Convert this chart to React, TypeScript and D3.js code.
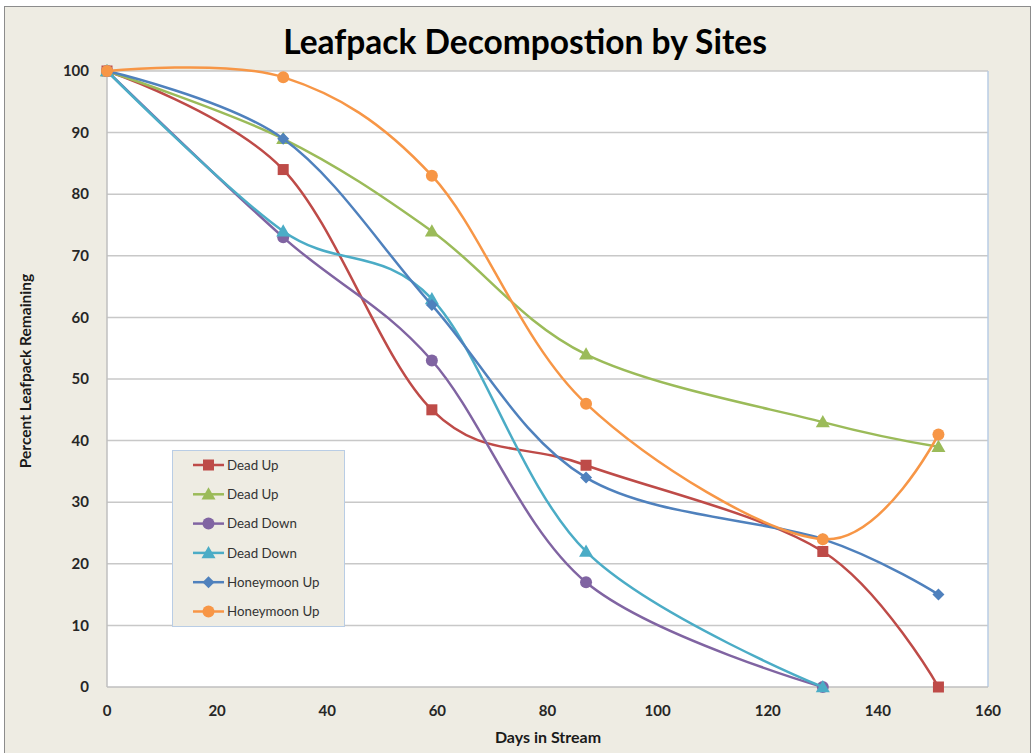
import React from "react";
import * as d3 from "d3";

const days = [0, 32, 59, 87, 130, 151];
const seriesNames = ["Dead Up", "Dead Up", "Dead Down", "Dead Down", "Honeymoon Up", "Honeymoon Up"];
const deadUpRed = [100, 84, 45, 36, 22, 0];
const deadUpGreen = [100, 89, 74, 54, 43, 39];
const deadDownPurple = [100, 73, 53, 17, 0];
const deadDownTeal = [100, 74, 63, 22, 0];
const honeymoonBlue = [100, 89, 62, 34, 24, 15];
const honeymoonOrange = [100, 99, 83, 46, 24, 41];
const xTicks = [0, 20, 40, 60, 80, 100, 120, 140, 160];
const yTicks = [0, 10, 20, 30, 40, 50, 60, 70, 80, 90, 100];

const seriesValues = [deadUpRed, deadUpGreen, deadDownPurple, deadDownTeal, honeymoonBlue, honeymoonOrange];
const colors = ["#BE4B48", "#9BBB59", "#8064A2", "#4BACC6", "#4F81BD", "#F79646"];
const markers = ["square", "triangle", "circle", "triangle", "diamond", "circle"];

const FONT = "Lato, 'Open Sans', sans-serif";

function Marker({ type, x, y, color }: { type: string; x: number; y: number; color: string }) {
  if (type === "square") return <rect x={x - 5.5} y={y - 5.5} width={11} height={11} fill={color} />;
  if (type === "circle") return <circle cx={x} cy={y} r={6} fill={color} />;
  if (type === "triangle") {
    const s = 7;
    return <path d={`M${x},${y - s}L${x + s},${y + s * 0.75}L${x - s},${y + s * 0.75}Z`} fill={color} />;
  }
  const s = 6;
  return <path d={`M${x},${y - s}L${x + s},${y}L${x},${y + s}L${x - s},${y}Z`} fill={color} />;
}

export default function App() {
  const W = 1032, H = 753;
  const x = d3.scaleLinear().domain([0, 160]).range([107, 988]);
  const y = d3.scaleLinear().domain([0, 100]).range([687, 71]);
  const line = d3
    .line<[number, number]>()
    .x((d) => x(d[0]))
    .y((d) => y(d[1]))
    .curve(d3.curveCatmullRom.alpha(0));

  const legendX = 172, legendY = 450;
  return (
    <svg width={W} height={H} style={{ position: "absolute", left: 0, top: 0 }} fontFamily={FONT}>
      <rect x={0} y={0} width={W} height={H} fill="#ffffff" />
      <rect x={4.5} y={6.5} width={1026} height={750} fill="#EEECE3" stroke="#8C8C8C" strokeWidth={1} />
      <rect x={x(0)} y={y(100)} width={x(160) - x(0)} height={y(0) - y(100)} fill="#ffffff" />
      {yTicks.filter((t) => t > 0).map((t) => (
        <line key={t} x1={x(0)} x2={x(160)} y1={y(t)} y2={y(t)} stroke="#C8C8C8" strokeWidth={1.5} />
      ))}
      <line x1={x(160)} x2={x(160)} y1={y(100)} y2={y(0)} stroke="#B9CDE5" strokeWidth={1.5} />
      <line x1={x(0)} x2={x(160)} y1={y(0)} y2={y(0)} stroke="#BFBFBF" strokeWidth={1.5} />
      <line x1={x(0)} x2={x(0)} y1={y(100)} y2={y(0)} stroke="#BFBFBF" strokeWidth={1.5} />
      {yTicks.map((t) => (
        <text key={t} x={89} y={y(t)} dy="0.35em" textAnchor="end" fontSize={15} fontWeight="bold" fill="#262626">
          {t}
        </text>
      ))}
      {xTicks.map((t) => (
        <text key={t} x={x(t)} y={716} textAnchor="middle" fontSize={15} fontWeight="bold" fill="#262626">
          {t}
        </text>
      ))}
      <text x={548} y={743} textAnchor="middle" fontSize={16} fontWeight="bold" fill="#1a1a1a">
        Days in Stream
      </text>
      <text
        transform={`translate(31,371) rotate(-90)`}
        textAnchor="middle"
        fontSize={15.5}
        fontWeight="bold"
        fill="#1a1a1a"
      >
        Percent Leafpack Remaining
      </text>
      <text x={525} y={54} textAnchor="middle" fontSize={33.5} fontWeight="bold" fill="#000">
        Leafpack Decompostion by Sites
      </text>
      {seriesValues.map((vals, i) => {
        const pts: [number, number][] = vals.map((v, j) => [days[j], v]);
        return (
          <g key={i}>
            <path d={line(pts) || ""} fill="none" stroke={colors[i]} strokeWidth={2.5} />
            {pts.map((p, j) => (
              <Marker key={j} type={markers[i]} x={x(p[0])} y={y(p[1])} color={colors[i]} />
            ))}
          </g>
        );
      })}
      <rect x={legendX + 0.5} y={legendY + 0.5} width={172} height={176} fill="#EEECE3" stroke="#B9CDE5" strokeWidth={1} />
      {seriesNames.map((name, i) => {
        const ly = legendY + 15 + i * 29.3;
        return (
          <g key={i}>
            <line x1={193} x2={224} y1={ly} y2={ly} stroke={colors[i]} strokeWidth={2.5} />
            <Marker type={markers[i]} x={208.5} y={ly} color={colors[i]} />
            <text x={227} y={ly} dy="0.35em" fontSize={13.3} fill="#333">
              {name}
            </text>
          </g>
        );
      })}
    </svg>
  );
}
